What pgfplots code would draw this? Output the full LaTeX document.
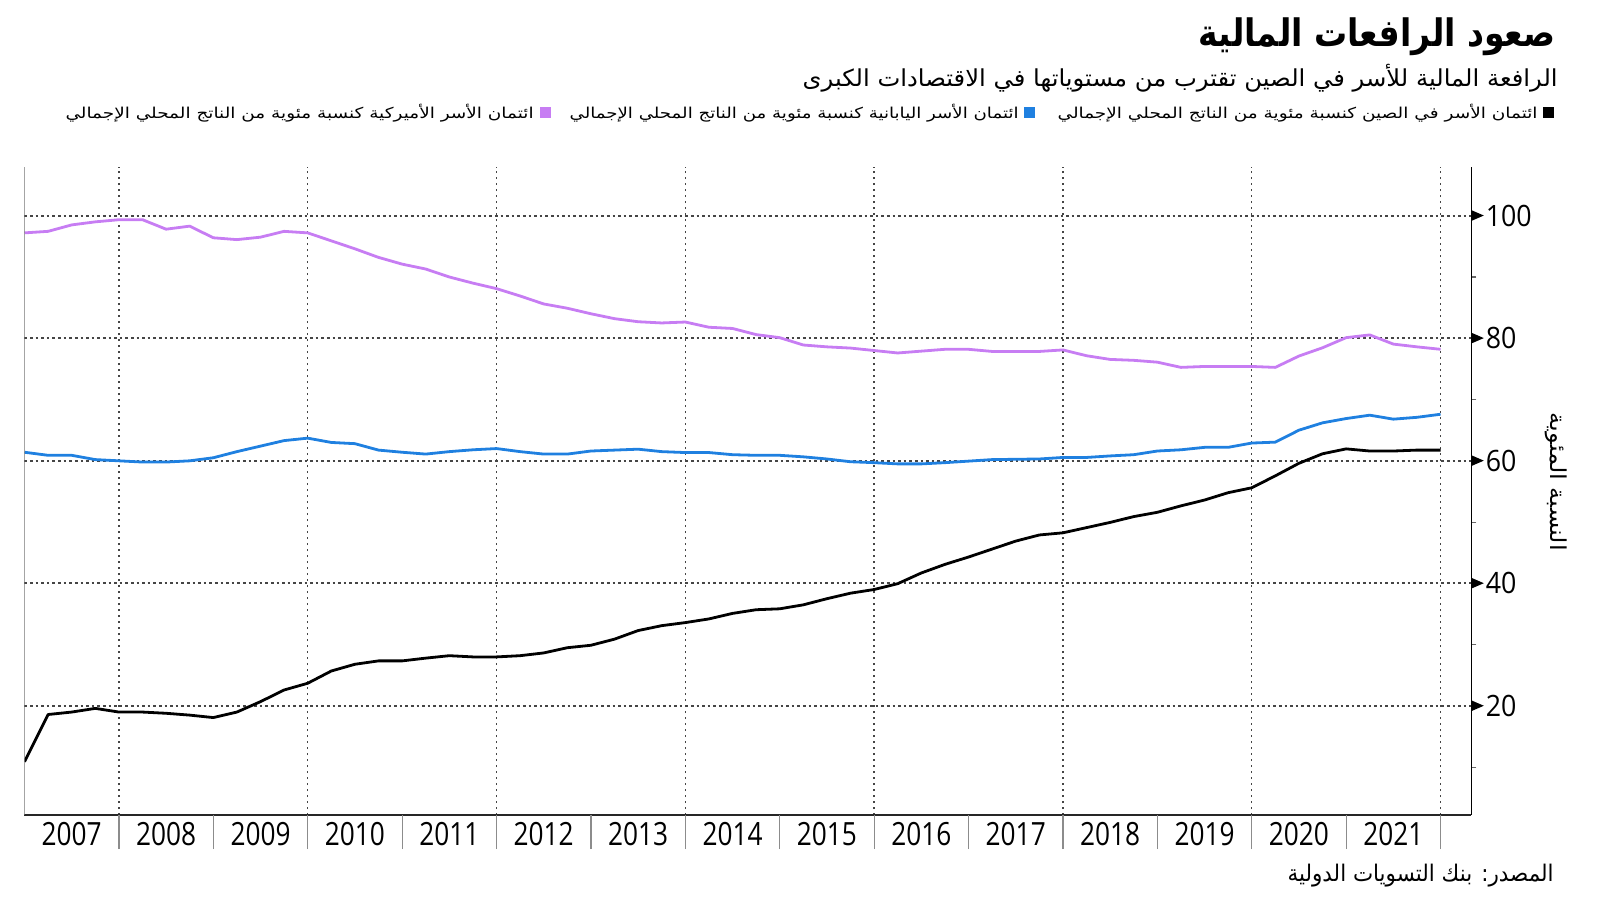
\documentclass[border=0pt]{standalone}
\usepackage{pgfplots}
\pgfplotsset{compat=1.18}
\usepackage{pgfplotstable}
\usepackage{graphicx}
\usepackage{fontspec}
\setmainfont{Open Sans}
\newfontfamily\ar[Script=Arabic]{DejaVu Sans}
\TeXXeTstate=1
\definecolor{jp}{HTML}{1F80E0}
\definecolor{us}{HTML}{C77DF3}
\definecolor{gridc}{HTML}{454545}
\newcommand\yl[1]{\scalebox{0.82}[1]{#1}}

\pgfplotstableread{
x cn jp us
2007.00 10.9 61.4 97.2
2007.25 18.6 60.9 97.45
2007.50 19.0 60.9 98.5
2007.75 19.6 60.2 99.0
2008.00 19.0 60.0 99.35
2008.25 19.0 59.8 99.35
2008.50 18.8 59.8 97.8
2008.75 18.5 60.0 98.3
2009.00 18.1 60.5 96.4
2009.25 19.0 61.5 96.1
2009.50 20.7 62.4 96.5
2009.75 22.6 63.3 97.45
2010.00 23.7 63.7 97.2
2010.25 25.7 63.0 95.9
2010.50 26.8 62.8 94.6
2010.75 27.35 61.75 93.2
2011.00 27.35 61.4 92.1
2011.25 27.8 61.1 91.3
2011.50 28.2 61.5 90.0
2011.75 28.0 61.8 89.0
2012.00 28.0 62.0 88.1
2012.25 28.2 61.5 86.9
2012.50 28.65 61.1 85.6
2012.75 29.5 61.1 84.9
2013.00 29.9 61.6 84.0
2013.25 30.9 61.75 83.2
2013.50 32.3 61.9 82.7
2013.75 33.1 61.5 82.5
2014.00 33.6 61.35 82.65
2014.25 34.2 61.35 81.8
2014.50 35.1 61.0 81.6
2014.75 35.7 60.9 80.6
2015.00 35.85 60.9 80.1
2015.25 36.5 60.65 78.9
2015.50 37.5 60.3 78.6
2015.75 38.4 59.85 78.4
2016.00 39.0 59.7 78.0
2016.25 39.95 59.5 77.6
2016.50 41.7 59.5 77.9
2016.75 43.1 59.7 78.2
2017.00 44.3 59.95 78.2
2017.25 45.6 60.2 77.85
2017.50 46.9 60.25 77.85
2017.75 47.9 60.3 77.85
2018.00 48.25 60.55 78.1
2018.25 49.1 60.55 77.15
2018.50 49.95 60.8 76.55
2018.75 50.9 61.0 76.4
2019.00 51.6 61.6 76.1
2019.25 52.65 61.8 75.25
2019.50 53.6 62.2 75.4
2019.75 54.8 62.2 75.4
2020.00 55.6 62.9 75.4
2020.25 57.55 63.05 75.25
2020.50 59.6 65.0 77.1
2020.75 61.15 66.2 78.45
2021.00 61.95 66.9 80.1
2021.25 61.6 67.45 80.55
2021.50 61.6 66.8 79.05
2021.75 61.75 67.1 78.6
2022.00 61.75 67.6 78.2
}\datatable

\begin{document}
\begin{tikzpicture}
\useasboundingbox (0,0) rectangle (800pt,450.5pt);
\begin{axis}[
  at={(12.25pt,43pt)}, anchor=south west,
  scale only axis, width=723.45pt, height=324.15pt,
  xmin=2007, xmax=2022.327, ymin=2.2, ymax=108,
  axis x line*=bottom, axis y line*=right,
  x axis line style={line width=0.8pt, color=black!85},
  y axis line style={line width=0.8pt, color=black},
  tick align=outside,
  major tick length=0pt, minor tick length=2.5pt,
  tick style={draw=black!60, line width=0.6pt},
  xtick={2007.5,2008.5,2009.5,2010.5,2011.5,2012.5,2013.5,2014.5,2015.5,2016.5,2017.5,2018.5,2019.5,2020.5,2021.5},
  xticklabels={\yl{2007},\yl{2008},\yl{2009},\yl{2010},\yl{2011},\yl{2012},\yl{2013},\yl{2014},\yl{2015},\yl{2016},\yl{2017},\yl{2018},\yl{2019},\yl{2020},\yl{2021}},
  xticklabel style={font=\fontsize{16}{16}\selectfont, inner sep=0pt, anchor=north, yshift=-3.5pt},
  minor xtick={2008,2010,2012,2014,2016,2018,2020,2022},
  xminorgrids=true,
  minor x grid style={gridc, line width=0.7pt, dash pattern=on 1.1pt off 1.9pt},
  extra x ticks={2008,2009,2010,2011,2012,2013,2014,2015,2016,2017,2018,2019,2020,2021,2022},
  extra x tick labels={},
  extra x tick style={major tick length=17pt, grid=none, tick style={draw=black!45, line width=0.6pt}},
  ytick={20,40,60,80,100},
  minor ytick={10,30,50,70,90},
  ymajorgrids=true,
  major y grid style={gridc, line width=0.9pt, dash pattern=on 1.3pt off 1.5pt},
  /pgf/number format/assume math mode=true,
  yticklabel={\tikz[baseline=-0.68ex]\fill[black] (0,2.6pt)--(6pt,0)--(0,-2.6pt)--cycle;\hspace{1pt}\scalebox{0.91}[1]{\pgfmathprintnumber{\tick}}},
  yticklabel style={anchor=west, inner sep=0pt, font=\fontsize{14.7}{14.7}\selectfont},
  line join=round,
]
\addplot[us, line width=1.4pt] table[x=x, y=us] {\datatable};
\addplot[jp, line width=1.4pt] table[x=x, y=jp] {\datatable};
\addplot[black, line width=1.4pt] table[x=x, y=cn] {\datatable};
\draw[black!55, line width=0.8pt] (rel axis cs:0,0) -- (rel axis cs:0,1);
\end{axis}
\begin{scope}[shift={(0pt,450.5pt)}, x=0.5pt, y=-0.5pt]
\node[anchor=east, inner sep=0pt] at (1556,37) {\resizebox*{178.5pt}{19pt}{\ar\bfseries\beginR صعود الرافعات المالية\endR}};
\node[anchor=east, inner sep=0pt] at (1558,78) {\resizebox*{377.5pt}{14pt}{\ar\beginR الرافعة المالية للأسر في الصين تقترب من مستوياتها في الاقتصادات الكبرى\endR}};
% legend
\fill[black] (1543,107.5) rectangle (1554,118.5);
\node[anchor=east, inner sep=0pt] at (1538,113) {\resizebox*{240pt}{9pt}{\ar\beginR ائتمان الأسر في الصين كنسبة مئوية من الناتج المحلي الإجمالي\endR}};
\fill[jp] (1024,107.5) rectangle (1035,118.5);
\node[anchor=east, inner sep=0pt] at (1019,113) {\resizebox*{224.5pt}{9pt}{\ar\beginR ائتمان الأسر اليابانية كنسبة مئوية من الناتج المحلي الإجمالي\endR}};
\fill[us] (540,107.5) rectangle (551,118.5);
\node[anchor=east, inner sep=0pt] at (534,113) {\resizebox*{234pt}{9pt}{\ar\beginR ائتمان الأسر الأميركية كنسبة مئوية من الناتج المحلي الإجمالي\endR}};
% y label
\node[rotate=-90, inner sep=0pt] at (1556,482) {\resizebox*{69pt}{11pt}{\ar\beginR النسبة المئوية\endR}};
% source
\node[anchor=east, inner sep=0pt] at (1554,875.5) {\resizebox*{133pt}{11.5pt}{\ar\beginR المصدر: بنك التسويات الدولية\endR}};
\end{scope}
\end{tikzpicture}
\end{document}
